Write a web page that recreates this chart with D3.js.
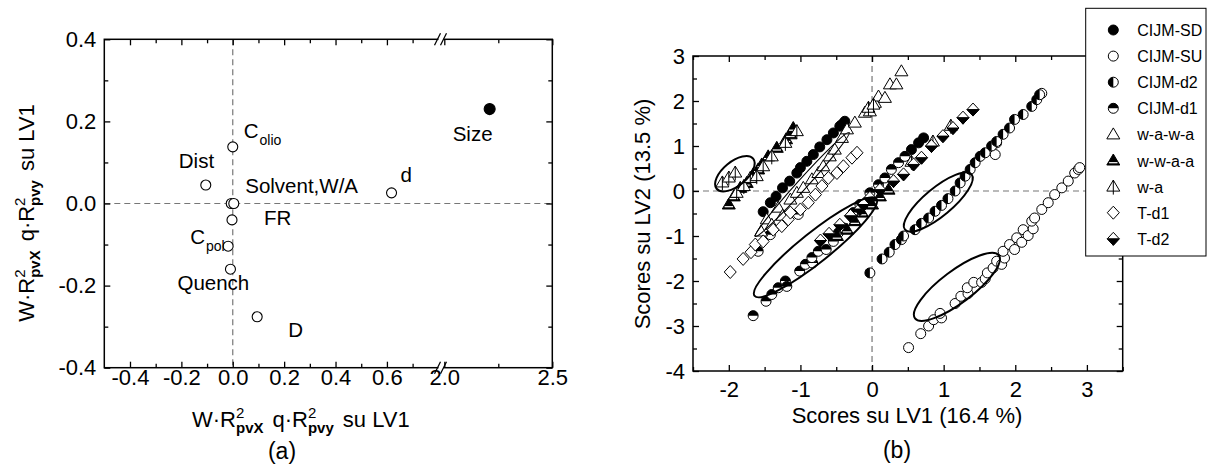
<!DOCTYPE html>
<html><head><meta charset="utf-8">
<script src="https://cdn.jsdelivr.net/npm/d3@7"></script>
<style>
body{margin:0;background:#fff}
svg{display:block}
text{font-family:"Liberation Sans",Arial,sans-serif;fill:#000}
</style>
</head><body>
<svg id="c" width="1208" height="472"></svg>
<script>
// ---------------- Panel (a): loadings ----------------
const loadNames = ["Colio","Dist","Solvent","W/A","FR","Cpol","Quench","D","d","Size"];
const loadX     = [0.0, -0.105, -0.006, 0.004, -0.003, -0.018, -0.009, 0.095, 0.618, 2.21];
const loadY     = [0.138, 0.045, 0.0, 0.0, -0.04, -0.104, -0.16, -0.276, 0.026, 0.23];
const aXTicks = [-0.4,-0.2,0.0,0.2,0.4,0.6,2.0,2.5];
const aXMinor = [-0.3,-0.1,0.1,0.3,0.5,0.7,2.25];
const aYTicks = [-0.4,-0.2,0.0,0.2,0.4];
const aYMinor = [-0.3,-0.1,0.1,0.3];

// ---------------- Panel (b): scores ----------------
const seriesNames = ["CIJM-SD","CIJM-SU","CIJM-d2","CIJM-d1","w-a-w-a","w-w-a-a","w-a","T-d1","T-d2"];
const cijmSD = [[-1.52,-0.46],[-1.42,-0.26],[-1.34,-0.12],[-1.25,0.07],[-1.15,0.22],[-1.05,0.4],[-1.0,0.52],[-0.91,0.66],[-0.82,0.81],[-0.73,0.98],[-0.63,1.14],[-0.54,1.29],[-0.45,1.44],[-0.42,1.48],[-0.38,1.55],[0.55,0.92],[0.65,1.07],[0.72,1.18]];
const cijmSU = [[0.51,-3.48],[0.68,-3.17],[0.79,-3.0],[0.86,-2.86],[0.97,-2.82],[0.95,-2.72],[1.16,-2.5],[1.24,-2.34],[1.34,-2.28],[1.33,-2.15],[1.42,-2.03],[1.53,-2.03],[1.58,-1.95],[1.61,-1.82],[1.69,-1.71],[1.74,-1.56],[1.81,-1.63],[1.85,-1.49],[1.83,-1.34],[1.92,-1.19],[1.99,-1.3],[2.02,-1.04],[2.09,-1.14],[2.11,-0.86],[2.18,-0.99],[2.25,-0.84],[2.23,-0.67],[2.27,-0.6],[2.37,-0.41],[2.46,-0.26],[2.55,-0.08],[2.65,0.07],[2.74,0.22],[2.83,0.4],[2.88,0.48],[2.9,0.52],[1.74,1.07],[1.72,0.81],[2.37,2.17]];
const cijmD2 = [[-0.03,-1.82],[0.14,-1.51],[0.24,-1.36],[0.32,-1.19],[0.41,-1.08],[0.44,-1.0],[0.6,-0.86],[0.69,-0.72],[0.79,-0.6],[0.88,-0.45],[0.97,-0.32],[1.06,-0.17],[1.16,0.0],[1.23,0.18],[1.3,0.33],[1.37,0.48],[1.44,0.63],[1.51,0.77],[1.58,0.85],[1.67,1.0],[1.74,1.1],[1.83,1.26],[1.92,1.4],[1.99,1.59],[2.11,1.7],[2.23,1.88],[2.3,2.03],[2.34,2.14]];
const cijmD1 = [[-1.66,-2.77],[-1.48,-2.45],[-1.4,-2.3],[-1.31,-2.15],[-1.21,-2.0],[-1.19,-2.12],[-1.01,-1.78],[-0.93,-1.63],[-0.83,-1.6],[-0.84,-1.48],[-0.75,-1.34],[-0.64,-1.3],[-0.54,-1.12],[-0.47,-0.93],[-0.4,-0.82],[-0.26,-0.48],[-0.17,-0.3],[-0.05,-0.26],[-1.59,-1.34],[-1.42,-0.97],[-1.03,-0.52],[-0.03,-0.04],[0.09,0.14],[0.18,0.29],[0.27,0.48],[0.37,0.63],[0.46,0.77]];
const wawa = [[-1.55,-0.9],[-1.47,-0.63],[-1.4,-0.75],[-1.31,-0.37],[-1.25,-0.55],[-1.14,-0.19],[-1.05,-0.04],[-0.96,0.07],[-0.84,0.26],[-0.75,0.4],[-0.68,0.55],[-0.59,0.77],[-0.52,0.92],[-0.42,1.18],[-0.35,1.37],[-0.24,1.52],[-0.1,1.74],[-0.03,1.77],[0.04,1.96],[0.09,2.1],[0.18,2.07],[0.25,2.37],[0.34,2.37],[0.41,2.66]];
const wwaa = [[-2.0,-0.3],[-1.93,-0.12],[-1.84,0.07],[-1.75,0.18],[-1.66,0.37],[-1.59,0.48],[-1.54,0.59],[-1.45,0.77],[-1.33,0.96],[-1.2,1.15],[-1.14,1.26],[-1.1,1.4],[-0.49,-1.0],[-0.35,-0.86],[-0.24,-0.67],[-0.14,-0.48],[0.0,-0.3],[0.11,-0.12],[0.23,0.03]];
const wa = [[-2.09,0.19],[-2.0,0.3],[-1.91,0.41],[-1.89,-0.04],[-1.79,0.11],[-1.7,0.29],[-1.61,0.33],[-1.52,0.55],[-1.4,0.77],[-1.21,1.07],[-1.05,1.33],[-0.05,1.85],[0.02,1.92],[0.55,0.65],[0.85,1.1],[1.1,1.45]];
const td1 = [[-1.98,-1.8],[-1.8,-1.51],[-1.69,-1.36],[-1.63,-1.19],[-1.52,-1.12],[-1.38,-0.86],[-1.26,-0.78],[-1.17,-0.63],[-1.14,-0.48],[-1.0,-0.41],[-0.89,-0.26],[-0.79,-0.08],[-0.7,0.11],[-0.61,0.29],[-0.49,0.4],[-0.4,0.55],[-0.28,0.74],[-0.21,0.85]];
const td2 = [[-0.72,-1.1],[-0.6,-0.95],[-0.45,-0.75],[-0.3,-0.55],[-0.17,-0.4],[-0.12,-0.3],[-0.03,-0.15],[0.11,0.03],[0.3,0.22],[0.44,0.37],[0.58,0.59],[0.69,0.74],[0.83,1.0],[0.99,1.22],[1.13,1.4],[1.27,1.63],[1.41,1.81]];
// ellipse major-axis end points in data units [x1,y1,x2,y2]
const ellipseEnds = [[-2.17,0.05,-1.66,0.72],[-1.64,-2.33,0.06,-0.17],[-1.63,-1.01,-0.32,1.3],[0.46,-0.86,1.39,0.37],[0.6,-2.83,1.77,-1.43]];
const bXTicks = [-2,-1,0,1,2,3];
const bXMinor = [-2.5,-1.5,-0.5,0.5,1.5,2.5,3.5];
const bYTicks = [-4,-3,-2,-1,0,1,2,3];
const bYMinor = [-3.5,-2.5,-1.5,-0.5,0.5,1.5,2.5];

const svg = d3.select("#c");
const FONT = '"Liberation Sans",Arial,sans-serif';

function frameAxes(g, x, y, opt){
  const [x0,x1] = [x.range()[0], x.range()[x.range().length-1]];
  const [y0,y1] = [y.range()[0], y.range()[1]];
  const mk = (axis, tr, vals, size, fmt, pad) => {
    const a = g.append("g").attr("transform", tr)
      .call(axis.tickValues(vals).tickSize(size).tickPadding(pad).tickFormat(fmt));
    a.select(".domain").remove();
    a.attr("font-family", FONT).attr("font-size", opt.fs);
    a.selectAll("line").attr("stroke","#000").attr("stroke-width",1.3);
    a.selectAll("text").attr("fill","#000");
    return a;
  };
  const none = () => "";
  mk(d3.axisBottom(x), `translate(0,${y0})`, opt.xt, -6, opt.fx, opt.padX);
  mk(d3.axisBottom(x), `translate(0,${y0})`, opt.xm, -4, none, 0);
  mk(d3.axisTop(x), `translate(0,${y1})`, opt.xt, -6, none, 0);
  mk(d3.axisTop(x), `translate(0,${y1})`, opt.xm, -4, none, 0);
  mk(d3.axisLeft(y), `translate(${x0},0)`, opt.yt, -6, opt.fy, opt.padY);
  mk(d3.axisLeft(y), `translate(${x0},0)`, opt.ym, -4, none, 0);
  mk(d3.axisRight(y), `translate(${x1},0)`, opt.yt, -6, none, 0);
  mk(d3.axisRight(y), `translate(${x1},0)`, opt.ym, -4, none, 0);
  g.append("rect").attr("x",x0).attr("y",y1).attr("width",x1-x0).attr("height",y0-y1)
    .attr("fill","none").attr("stroke","#000").attr("stroke-width",1.5);
}

// ================= Panel (a) =================
const xa = d3.scaleLinear().domain([-0.5,0.8,2.0,2.5]).range([104.3,438.3,444.3,552.3]);
const ya = d3.scaleLinear().domain([-0.4,0.4]).range([367.7,39.3]);
const ga = svg.append("g");
ga.append("line").attr("x1",xa(0)).attr("x2",xa(0)).attr("y1",ya(0.4)).attr("y2",ya(-0.4))
  .attr("stroke","#777").attr("stroke-width",1.2).attr("stroke-dasharray","6,4");
ga.append("line").attr("x1",xa(-0.5)).attr("x2",xa(2.5)).attr("y1",ya(0)).attr("y2",ya(0))
  .attr("stroke","#777").attr("stroke-width",1.2).attr("stroke-dasharray","6,4");
frameAxes(ga, xa, ya, {xt:aXTicks, xm:aXMinor, yt:aYTicks, ym:aYMinor,
  fx:d=>d.toFixed(1), fy:d=>d.toFixed(1), padX:2, padY:8, fs:22});
[ya(0.4), ya(-0.4)].forEach(yy=>{
  ga.append("rect").attr("x",438.5).attr("y",yy-2).attr("width",5).attr("height",4).attr("fill","#fff");
  [437.5,443.5].forEach(xx=>{
    ga.append("line").attr("x1",xx-3).attr("y1",yy+6).attr("x2",xx+3).attr("y2",yy-6)
      .attr("stroke","#000").attr("stroke-width",1.3);
  });
});
loadNames.forEach((n,i)=>{
  ga.append("circle").attr("cx",xa(loadX[i])).attr("cy",ya(loadY[i])).attr("r",n==="Size"?5.5:5)
    .attr("fill",n==="Size"?"#000":"#fff").attr("stroke","#000").attr("stroke-width",1.1);
});
const labelInfo = {
  "Colio":["C","olio",11,-9], "Dist":["Dist","",-27,-17], "Solvent":["Solvent,W/A","",14,-11],
  "FR":["FR","",32,5], "Cpol":["C","pol",-38,-2], "Quench":["Quench","",-53,21],
  "D":["D","",31,20], "d":["d","",9,-11], "Size":["Size","",-37,32]
};
loadNames.forEach((n,i)=>{
  const L = labelInfo[n]; if(!L) return;
  const t = ga.append("text").attr("x",xa(loadX[i])+L[2]).attr("y",ya(loadY[i])+L[3]).attr("font-size",20.5);
  t.append("tspan").text(L[0]);
  if(L[1]) t.append("tspan").attr("font-size",14).attr("dx",1).attr("dy",7).text(L[1]);
});
function rpTitle(t, fs, ss){
  t.append("tspan").text("W·R");
  t.append("tspan").attr("font-size",ss).attr("dy",-9).text("2");
  t.append("tspan").attr("font-size",ss).attr("font-weight","bold").attr("dx",-ss*0.556).attr("dy",15).text("pvX");
  t.append("tspan").attr("dx",9).attr("dy",-6).text("q·R");
  t.append("tspan").attr("font-size",ss).attr("dy",-9).text("2");
  t.append("tspan").attr("font-size",ss).attr("font-weight","bold").attr("dx",-ss*0.556).attr("dy",15).text("pvy");
  t.append("tspan").attr("dx",9).attr("dy",-6).text("su LV1");
}
rpTitle(ga.append("text").attr("x",192).attr("y",426.7).attr("font-size",22), 22, 15);
rpTitle(ga.append("text").attr("transform","translate(33.5,213) rotate(-90)").attr("text-anchor","middle").attr("font-size",22), 22, 15);
svg.append("text").attr("x",282).attr("y",459).attr("text-anchor","middle")
  .attr("font-family",'"Liberation Serif","Times New Roman",serif').attr("font-size",23).text("(a)");

// ================= Panel (b) =================
const xb = d3.scaleLinear().domain([-2.5,3.5]).range([693,1122.7]);
const yb = d3.scaleLinear().domain([-4,3]).range([371,56]);
const gb = svg.append("g");
gb.append("line").attr("x1",xb(0)).attr("x2",xb(0)).attr("y1",yb(3)).attr("y2",yb(-4))
  .attr("stroke","#777").attr("stroke-width",1.2).attr("stroke-dasharray","6,4");
gb.append("line").attr("x1",xb(-2.5)).attr("x2",xb(3.5)).attr("y1",yb(0)).attr("y2",yb(0))
  .attr("stroke","#777").attr("stroke-width",1.2).attr("stroke-dasharray","6,4");

function marker(g, type, cx, cy){
  const r = 5;
  const circ = (fill) => g.append("circle").attr("cx",cx).attr("cy",cy).attr("r",r)
    .attr("fill",fill).attr("stroke","#000").attr("stroke-width",1);
  const tri = `M${cx},${cy-6.5}L${cx+6.5},${cy+4.5}L${cx-6.5},${cy+4.5}Z`;
  const dia = `M${cx},${cy-6.5}L${cx+6},${cy}L${cx},${cy+6.5}L${cx-6},${cy}Z`;
  switch(type){
    case "CIJM-SD": circ("#000"); break;
    case "CIJM-SU": circ("#fff"); break;
    case "CIJM-d2": circ("#fff");
      g.append("path").attr("d",`M${cx},${cy-r}A${r},${r} 0 0 0 ${cx},${cy+r}Z`).attr("fill","#000"); break;
    case "CIJM-d1": circ("#fff");
      g.append("path").attr("d",`M${cx-r},${cy}A${r},${r} 0 0 1 ${cx+r},${cy}Z`).attr("fill","#000"); break;
    case "w-a-w-a": g.append("path").attr("d",tri).attr("fill","#fff").attr("stroke","#000"); break;
    case "w-w-a-a": g.append("path").attr("d",tri).attr("fill","#000").attr("stroke","#000");
      g.append("line").attr("x1",cx-4.2).attr("x2",cx+4.2).attr("y1",cy+2.2).attr("y2",cy+2.2)
        .attr("stroke","#fff").attr("stroke-width",1.2); break;
    case "w-a": g.append("path").attr("d",tri).attr("fill","#fff").attr("stroke","#000");
      g.append("line").attr("x1",cx).attr("x2",cx).attr("y1",cy-6.5).attr("y2",cy+8).attr("stroke","#000"); break;
    case "T-d1": g.append("path").attr("d",dia).attr("fill","#fff").attr("stroke","#000"); break;
    case "T-d2": g.append("path").attr("d",dia).attr("fill","#fff").attr("stroke","#000");
      g.append("path").attr("d",`M${cx-6},${cy}L${cx+6},${cy}L${cx},${cy+6.5}Z`).attr("fill","#000").attr("stroke","#000"); break;
  }
}
const seriesData = [cijmSD, cijmSU, cijmD2, cijmD1, wawa, wwaa, wa, td1, td2];
const gp = gb.append("g");
seriesNames.forEach((n,i)=> seriesData[i].forEach(p => marker(gp, n, xb(p[0]), yb(p[1]))));

const ellipseMinor = [12,15,5,14,16];
const ellipseStroke = [2,2,1.1,2,2];
ellipseEnds.forEach((e,i)=>{
  const x1=xb(e[0]), y1=yb(e[1]), x2=xb(e[2]), y2=yb(e[3]);
  const cx=(x1+x2)/2, cy=(y1+y2)/2, rx=Math.hypot(x2-x1,y2-y1)/2;
  const ang=Math.atan2(y2-y1,x2-x1)*180/Math.PI;
  gb.append("ellipse").attr("cx",cx).attr("cy",cy).attr("rx",rx).attr("ry",ellipseMinor[i])
    .attr("transform",`rotate(${ang},${cx},${cy})`).attr("fill","none").attr("stroke","#000").attr("stroke-width",ellipseStroke[i]);
});

frameAxes(gb, xb, yb, {xt:bXTicks, xm:bXMinor, yt:bYTicks, ym:bYMinor,
  fx:d=>String(d), fy:d=>String(d), padX:10.5, padY:8, fs:22});
gb.append("text").attr("x",907).attr("y",422.7).attr("text-anchor","middle").attr("font-size",22)
  .text("Scores su LV1 (16.4 %)");
gb.append("text").attr("transform","translate(650,214) rotate(-90)").attr("text-anchor","middle").attr("font-size",22)
  .text("Scores su LV2 (13.5 %)");
svg.append("text").attr("x",897).attr("y",458).attr("text-anchor","middle")
  .attr("font-family",'"Liberation Serif","Times New Roman",serif').attr("font-size",23).text("(b)");

const lg = svg.append("g");
lg.append("rect").attr("x",1085.7).attr("y",8.3).attr("width",120.3).attr("height",247.7)
  .attr("fill","#fff").attr("stroke","#000").attr("stroke-width",1);
seriesNames.forEach((n,i)=>{
  const yy = 30 + i*26.1;
  marker(lg, n, 1113.3, yy);
  lg.append("text").attr("x",1137.3).attr("y",yy+6).attr("font-size",16).text(n);
});
</script>
</body></html>
